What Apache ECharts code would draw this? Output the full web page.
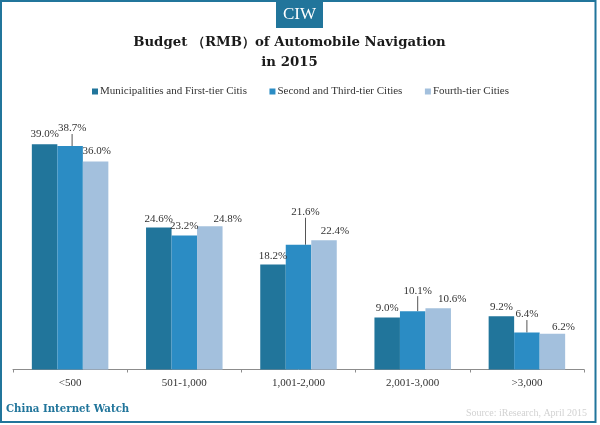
<!DOCTYPE html>
<html><head><meta charset="utf-8">
<style>html,body{margin:0;padding:0;background:#fff}#c{width:600px;height:425px}</style>
<script src="https://cdn.jsdelivr.net/npm/echarts@6/dist/echarts.min.js"></script>
</head><body><div id="c"></div>
<script>
const categories = ['<500','501-1,000','1,001-2,000','2,001-3,000','>3,000'];
const seriesNames = ['Municipalities and First-tier Citis','Second and Third-tier Cities','Fourth-tier Cities'];
const firstTier = [39.0,24.6,18.2,9.0,9.2];
const secondTier = [38.7,23.2,21.6,10.1,6.4];
const fourthTier = [36.0,24.8,22.4,10.6,6.2];
const colors = ['#21759b','#2b8cc4','#a3c0dd'];
const serif = '"Liberation Serif", serif';
const labelShift = [
  [[0,-2],[0,0],[0,0],[0,-1],[0,-1]],
  [[2,-9],[0,-1],[7,-24],[5,-12],[0,-9.5]],
  [[1,-2],[18,1],[11,-1],[14,-1],[11,2]]
];
const leaderLines = [
  [false,false,false,false,false],
  [true,false,true,true,true],
  [false,false,false,false,false]
];
const allValues = [firstTier,secondTier,fourthTier];
const chart = echarts.init(document.getElementById('c'),null,{renderer:'canvas'});
chart.setOption({
  animation:false,
  backgroundColor:'#fff',
  title:{text:'Budget （RMB）of Automobile Navigation\nin 2015',left:284.5,top:28,textAlign:'center',
    textStyle:{fontFamily:'"DejaVu Serif", serif',fontWeight:'bold',fontSize:13.3,lineHeight:20,color:'#1a1a1a'}},
  legend:{top:81,left:87,itemWidth:6,itemHeight:6,itemGap:22.5,icon:'rect',
    textStyle:{fontFamily:serif,fontSize:11,color:'#333',padding:[0,0,0,-3]}},
  grid:{left:13,right:16,top:138.5,bottom:55.5},
  xAxis:{type:'category',data:categories,
    axisLine:{lineStyle:{color:'#8c8c8c',width:1}},
    axisTick:{show:true,length:3,inside:false,lineStyle:{color:'#8c8c8c'},alignWithLabel:false},
    axisLabel:{fontFamily:serif,fontSize:11,color:'#333',margin:8}},
  yAxis:{type:'value',min:0,max:40,show:false},
  series:allValues.map((vals,s)=>({
    type:'bar',name:seriesNames[s],barGap:0,barCategoryGap:'33%',
    itemStyle:{color:colors[s]},
    data:vals.map((v,i)=>({value:v,labelLine:{show:leaderLines[s][i]}})),
    label:{show:true,position:'top',distance:3,fontFamily:serif,fontSize:11,color:'#333',
      formatter:p=>p.value.toFixed(1)+'%'},
    labelLine:{lineStyle:{color:'#555',width:1}},
    labelLayout:p=>({dx:labelShift[s][p.dataIndex][0],dy:labelShift[s][p.dataIndex][1]})
  })),
  graphic:[
    {type:'rect',silent:true,z:10,shape:{x:1,y:1,width:594.5,height:421},style:{fill:'none',stroke:'#21759b',lineWidth:2}},
    {type:'rect',silent:true,z:10,shape:{x:276,y:2,width:47,height:26},style:{fill:'#21759b'}},
    {type:'text',silent:true,z:11,x:299.5,y:15,style:{text:'CIW',fill:'#fff',font:'17px "Liberation Serif", serif',textAlign:'center',textVerticalAlign:'middle'}},
    {type:'text',silent:true,z:11,x:6,y:409,style:{text:'China Internet Watch',fill:'#21759b',font:'bold 10.2px "DejaVu Serif", serif',textAlign:'left',textVerticalAlign:'middle'}},
    {type:'text',silent:true,z:11,x:587,y:413,style:{text:'Source: iResearch, April 2015',fill:'#d2d2d2',font:'10px "Liberation Serif", serif',textAlign:'right',textVerticalAlign:'middle'}}
  ]
});
</script></body></html>
